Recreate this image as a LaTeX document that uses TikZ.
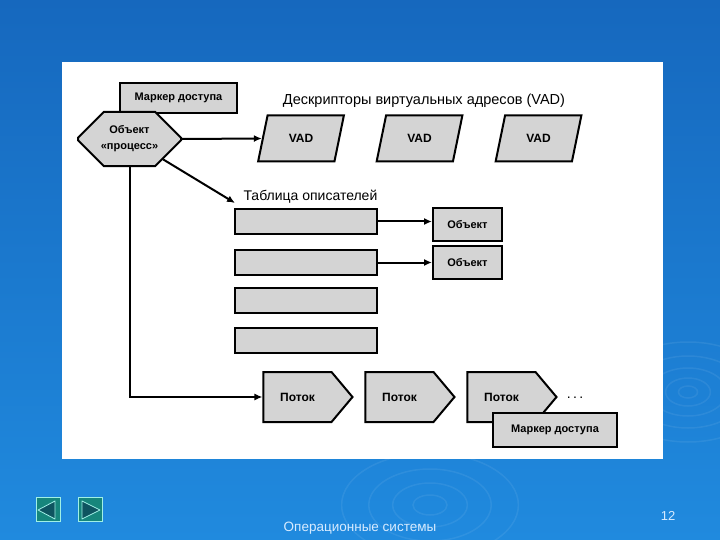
\documentclass[tikz,border=0pt]{standalone}
\usepackage{fontspec}
\setmainfont{Liberation Sans}
\usetikzlibrary{calc, positioning, shapes.geometric, shapes.misc, shapes.symbols, arrows.meta}

\definecolor{slideblue}{RGB}{22,104,190}
\definecolor{slidelight}{RGB}{32,138,222}
\definecolor{boxgray}{RGB}{212,212,212}
\definecolor{btnteal}{RGB}{22,134,124}
\definecolor{btndark}{RGB}{14,84,96}
\definecolor{btnline}{RGB}{160,240,230}
\definecolor{foottext}{RGB}{215,235,255}

\begin{document}
\begin{tikzpicture}[x=1pt, y=-1pt,
  box/.style={draw, line width=2pt, fill=boxgray, inner sep=1pt, font=\fontsize{11}{12}\selectfont\bfseries},
  proc/.style={box, chamfered rectangle, chamfered rectangle xsep=13pt, chamfered rectangle ysep=13pt, minimum width=103pt, minimum height=54pt, font=\fontsize{11}{16}\selectfont\bfseries},
  vad/.style={box, trapezium, trapezium left angle=70, trapezium right angle=110, trapezium stretches=true, minimum width=86pt, minimum height=46pt, font=\fontsize{12}{13}\selectfont\bfseries},
  row/.style={box, minimum width=142pt, minimum height=25pt},
  flow/.style={box, signal, signal to=east, signal pointer angle=100, minimum width=89pt, minimum height=50pt, font=\fontsize{12}{13}\selectfont\bfseries},
  arr/.style={line width=2pt, -{Latex[length=8pt,width=7pt]}},
  btn/.style={draw=btnline, fill=btnteal, line width=0.8pt, minimum size=24pt, inner sep=0pt},
  tri/.style={draw=btnline, fill=btndark, line width=0.8pt, line join=round},
  ripple/.style={white, opacity=0.07, line width=1.5pt}]
\useasboundingbox (0,0) rectangle (720,540);
% slide background
\shade[top color=slideblue, bottom color=slidelight] (0,0) rectangle (720,540);
\foreach \r in {6,14,24,36,50}
  \draw[ripple] (688,392) ellipse ({1.6*\r pt} and {\r pt});
\foreach \r in {10,22,36,52}
  \draw[ripple] (430,505) ellipse ({1.7*\r pt} and {\r pt});
\fill[white] (62,62) rectangle (663,459);

% process object and its tokens
\node[box, minimum width=117pt, minimum height=30pt] (mtop) at (178.5,98) {Маркер доступа};
\node[proc, align=center] (proc) at (129.5,139) {Объект\\«процесс»};

% VAD
\node[font=\fontsize{14.5}{15}\selectfont] (vadtitle) at (424,101) {Дескрипторы виртуальных адресов (VAD)};
\foreach \i/\x in {1/301, 2/419.5, 3/538.5}
  \node[vad] (vad\i) at (\x,138.5) {VAD};
\draw[arr] (proc.east) -- (vad1.west);

% handle table
\node[font=\fontsize{14}{15}\selectfont, anchor=west] (tabtitle) at (240,197) {Таблица описателей};
\foreach \i/\y in {1/221.5, 2/262.5, 3/300.5, 4/340.5}
  \node[row] (row\i) at (306,\y) {};
\node[box, minimum width=69pt, minimum height=33pt] (obj1) at (467.5,224.5) {Объект};
\node[box, minimum width=69pt, minimum height=33pt] (obj2) at (467.5,262.5) {Объект};
\coordinate (tabin) at (235,203);
\draw[arr] (proc) -- (tabin);
\draw[arr] (row1.east) -- (row1.east -| obj1.west);
\draw[arr] (row2.east) -- (row2.east -| obj2.west);

% threads
\foreach \i/\x in {1/297.5, 2/399.5, 3/501.5}
  \node[flow] (flow\i) at (\x,397) {Поток};
\node[font=\fontsize{14}{15}\selectfont] (dots) at (575,398) {.\,.\,.};
\node[box, minimum width=124pt, minimum height=34pt] (mbot) at (555,430) {Маркер доступа};
\draw[arr] (proc.south) |- (flow1.west);

% footer
\node[btn] (prev) at (48,509.5) {};
\node[btn] (next) at (90.5,509.5) {};
\draw[tri] (38,510) -- (55,501) -- (55,519) -- cycle;
\draw[tri] (100,510) -- (82,501) -- (82,519) -- cycle;
\node[text=foottext, font=\fontsize{13.5}{14}\selectfont] (foot) at (360,528) {Операционные системы};
\node[text=foottext, font=\fontsize{13}{14}\selectfont] (pagenum) at (668,516) {12};
\end{tikzpicture}
\end{document}
